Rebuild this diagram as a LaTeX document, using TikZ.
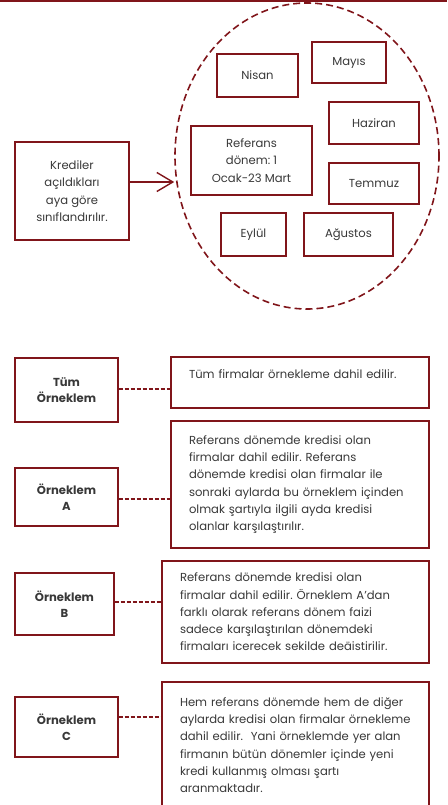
\documentclass[tikz,border=0pt]{standalone}
\usepackage{fontspec}
\setmainfont{Poppins}
\frenchspacing
\usetikzlibrary{shapes.geometric,arrows.meta}
\definecolor{kred}{RGB}{128,21,26}
\definecolor{kgray}{RGB}{56,56,56}
\tikzset{
  pix/.style={x=1pt,y=-1pt,font=\fontsize{11.6}{17.3}\selectfont,text=kgray},
  kbox/.style={draw=kred,line width=1.3pt,align=center,inner sep=0pt},
  klabel/.style={kbox,font=\fontsize{11.6}{16.5}\selectfont\bfseries},
  ktext/.style={draw=kred,line width=1.3pt,align=left,inner xsep=18pt,inner ysep=0pt},
  klink/.style={draw=kred,line width=1.3pt,dash pattern=on 4pt off 2pt}
}

\begin{document}
\begin{tikzpicture}[pix]
    \clip (0,0) rectangle (447,805);
    \draw[kred,line width=1.2pt] (0,1) -- (447,1);
    % months
    \node[ellipse,draw=kred,line width=1.6pt,dash pattern=on 7pt off 4pt,
          minimum width=264pt,minimum height=306pt,inner sep=0pt] (months) at (307,156) {};
    \node[kbox,minimum width=81pt,minimum height=43pt] (nisan)   at (257.5,75.5) {Nisan};
    \node[kbox,minimum width=74pt,minimum height=41pt] (mayis)   at (349,62.5)   {Mayıs};
    \node[kbox,minimum width=90pt,minimum height=42pt] (haziran) at (374,123)    {Haziran};
    \node[kbox,minimum width=121pt,minimum height=69pt] (ref)    at (251.5,160.5) {Referans\\dönem: 1\\Ocak-23 Mart};
    \node[kbox,minimum width=90pt,minimum height=41pt] (temmuz)  at (374,183.5)  {Temmuz};
    \node[kbox,minimum width=65pt,minimum height=43pt] (eylul)   at (253.5,234.5) {Eylül};
    \node[kbox,minimum width=89pt,minimum height=43pt] (agustos) at (348.5,234.5) {Ağustos};
    \node[kbox,minimum width=114pt,minimum height=98pt] (krediler) at (72,191)
        {Krediler\\açıldıkları\\aya göre\\sınıflandırılır.};
    \draw[kred,line width=1.4pt,-{Straight Barb[length=16pt,width=19pt]}]
        ([yshift=9pt]krediler.east) -- ([yshift=9pt]krediler.east -| months.west);
    % samples
    \node[klabel,minimum width=103pt,minimum height=64pt] (tum)  at (66.5,390) {Tüm\\Örneklem};
    \node[klabel,minimum width=103pt,minimum height=58pt] (alab) at (66.5,497) {Örneklem\\A};
    \node[klabel,minimum width=99pt,minimum height=62pt]  (blab) at (64.5,604) {Örneklem\\B};
    \node[klabel,minimum width=103pt,minimum height=60pt] (clab) at (66.5,727) {Örneklem\\C};
    \node[ktext,text width=222pt,minimum height=51pt] (tumtext) at (300,382.5)
        {Tüm firmalar örnekleme dahil edilir.\\ \mbox{}};
    \node[ktext,text width=222pt,minimum height=127pt] (atext) at (300,484.5)
        {Referans dönemde kredisi olan\\firmalar dahil edilir. Referans\\dönemde kredisi olan firmalar ile\\sonraki aylarda bu örneklem içinden\\olmak şartıyla ilgili ayda kredisi\\olanlar karşılaştırılır.};
    \node[ktext,text width=231pt,minimum height=102pt] (btext) at (295.5,612)
        {Referans dönemde kredisi olan\\firmalar dahil edilir. Örneklem A’dan\\farklı olarak referans dönem faizi\\sadece karşılaştırılan dönemdeki\\firmaları icerecek sekilde deäistirilir.};
    \node[ktext,text width=231pt,minimum height=126pt] (ctext) at (295.5,745)
        {Hem referans dönemde hem de diğer\\aylarda kredisi olan firmalar örnekleme\\dahil edilir.\ \ Yani örneklemde yer alan\\firmanın bütün dönemler içinde yeni\\kredi kullanmış olması şartı\\aranmaktadır.};
    \draw[klink] ([yshift=1pt]tum.east) -- ([yshift=1pt]tum.east -| tumtext.west);
    \draw[klink] ([yshift=-2pt]alab.east) -- ([yshift=-2pt]alab.east -| atext.west);
    \draw[klink] ([yshift=2pt]blab.east) -- ([yshift=2pt]blab.east -| btext.west);
    \draw[klink] ([yshift=10pt]clab.east) -- ([yshift=10pt]clab.east -| ctext.west);
\end{tikzpicture}
\end{document}
